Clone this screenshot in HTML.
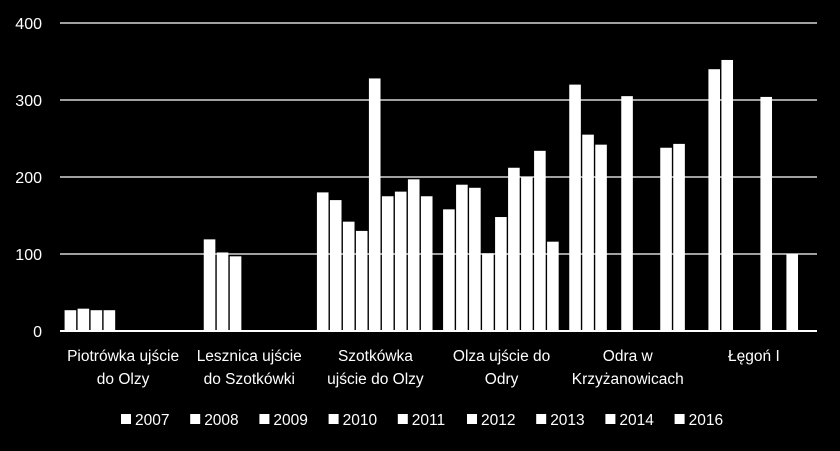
<!DOCTYPE html>
<html><head><meta charset="utf-8"><style>
html,body{margin:0;padding:0;background:#000;}
svg{display:block;font-family:"Liberation Sans",sans-serif;}
</style></head><body>
<svg id="chart" width="840" height="451"></svg>
<script>
const categories=[["Piotrówka ujście","do Olzy"],["Lesznica ujście","do Szotkówki"],["Szotkówka","ujście do Olzy"],["Olza ujście do","Odry"],["Odra w","Krzyżanowicach"],["Łęgoń I"]];
const years=["2007","2008","2009","2010","2011","2012","2013","2014","2016"];
const s2007=[27,0,180,158,320,0];
const s2008=[29,119,170,190,255,340];
const s2009=[27,102,142,186,242,352];
const s2010=[27,97,130,101,0,0];
const s2011=[0,0,328,148,305,0];
const s2012=[0,0,175,212,0,304];
const s2013=[0,0,181,200,0,0];
const s2014=[0,0,197,234,238,100];
const s2016=[0,0,175,116,243,0];
const series=[s2007,s2008,s2009,s2010,s2011,s2012,s2013,s2014,s2016];
const yTicks=[0,100,200,300,400];
const NS="http://www.w3.org/2000/svg";
const svg=document.getElementById('chart');
const x0=60,x1=817,yBase=331,yTop=23,yMax=400;
const gw=(x1-x0)/categories.length;
const pitch=13,bw=11.6;
const pad=(gw-pitch*years.length)/2;
function yS(v){return yBase-(v/yMax)*(yBase-yTop);}
function mk(t,a){const e=document.createElementNS(NS,t);for(const k in a)e.setAttribute(k,a[k]);svg.appendChild(e);return e;}
yTicks.forEach(v=>{
 const l=mk('line',{x1:x0,x2:x1,y1:yS(v),y2:yS(v),stroke:'#fff','stroke-width':v===0?2:1.3});
 
 
 const t=mk('text',{x:42,y:yS(v)+6,fill:'#fff','font-size':16,'text-anchor':'end'});
 t.textContent=v;
 
 
});
series.forEach((s,si)=>{
 s.forEach((v,ci)=>{
  if(!v)return;
  const x=x0+ci*gw+pad+si*pitch;
  const r=mk('rect',{x:x,y:yS(v),width:bw,height:yBase-yS(v),fill:'#fff'});
  
  
 });
});
categories.forEach((c,ci)=>{
 const cx=x0+ci*gw+gw/2;
 c.forEach((ln,li)=>{
  const t=mk('text',{x:cx,y:361+li*23,fill:'#fff','font-size':15.5,'text-anchor':'middle'});
  t.textContent=ln;
  
  
 });
});
years.forEach((yr,i)=>{
 const lx=121+i*69.2;
 const r=mk('rect',{x:lx,y:414,width:10,height:10,fill:'#fff'});
 
 
 const t=mk('text',{x:lx+14,y:425,fill:'#fff','font-size':15.5});
 t.textContent=yr;
 
 
});
</script>
</body></html>
